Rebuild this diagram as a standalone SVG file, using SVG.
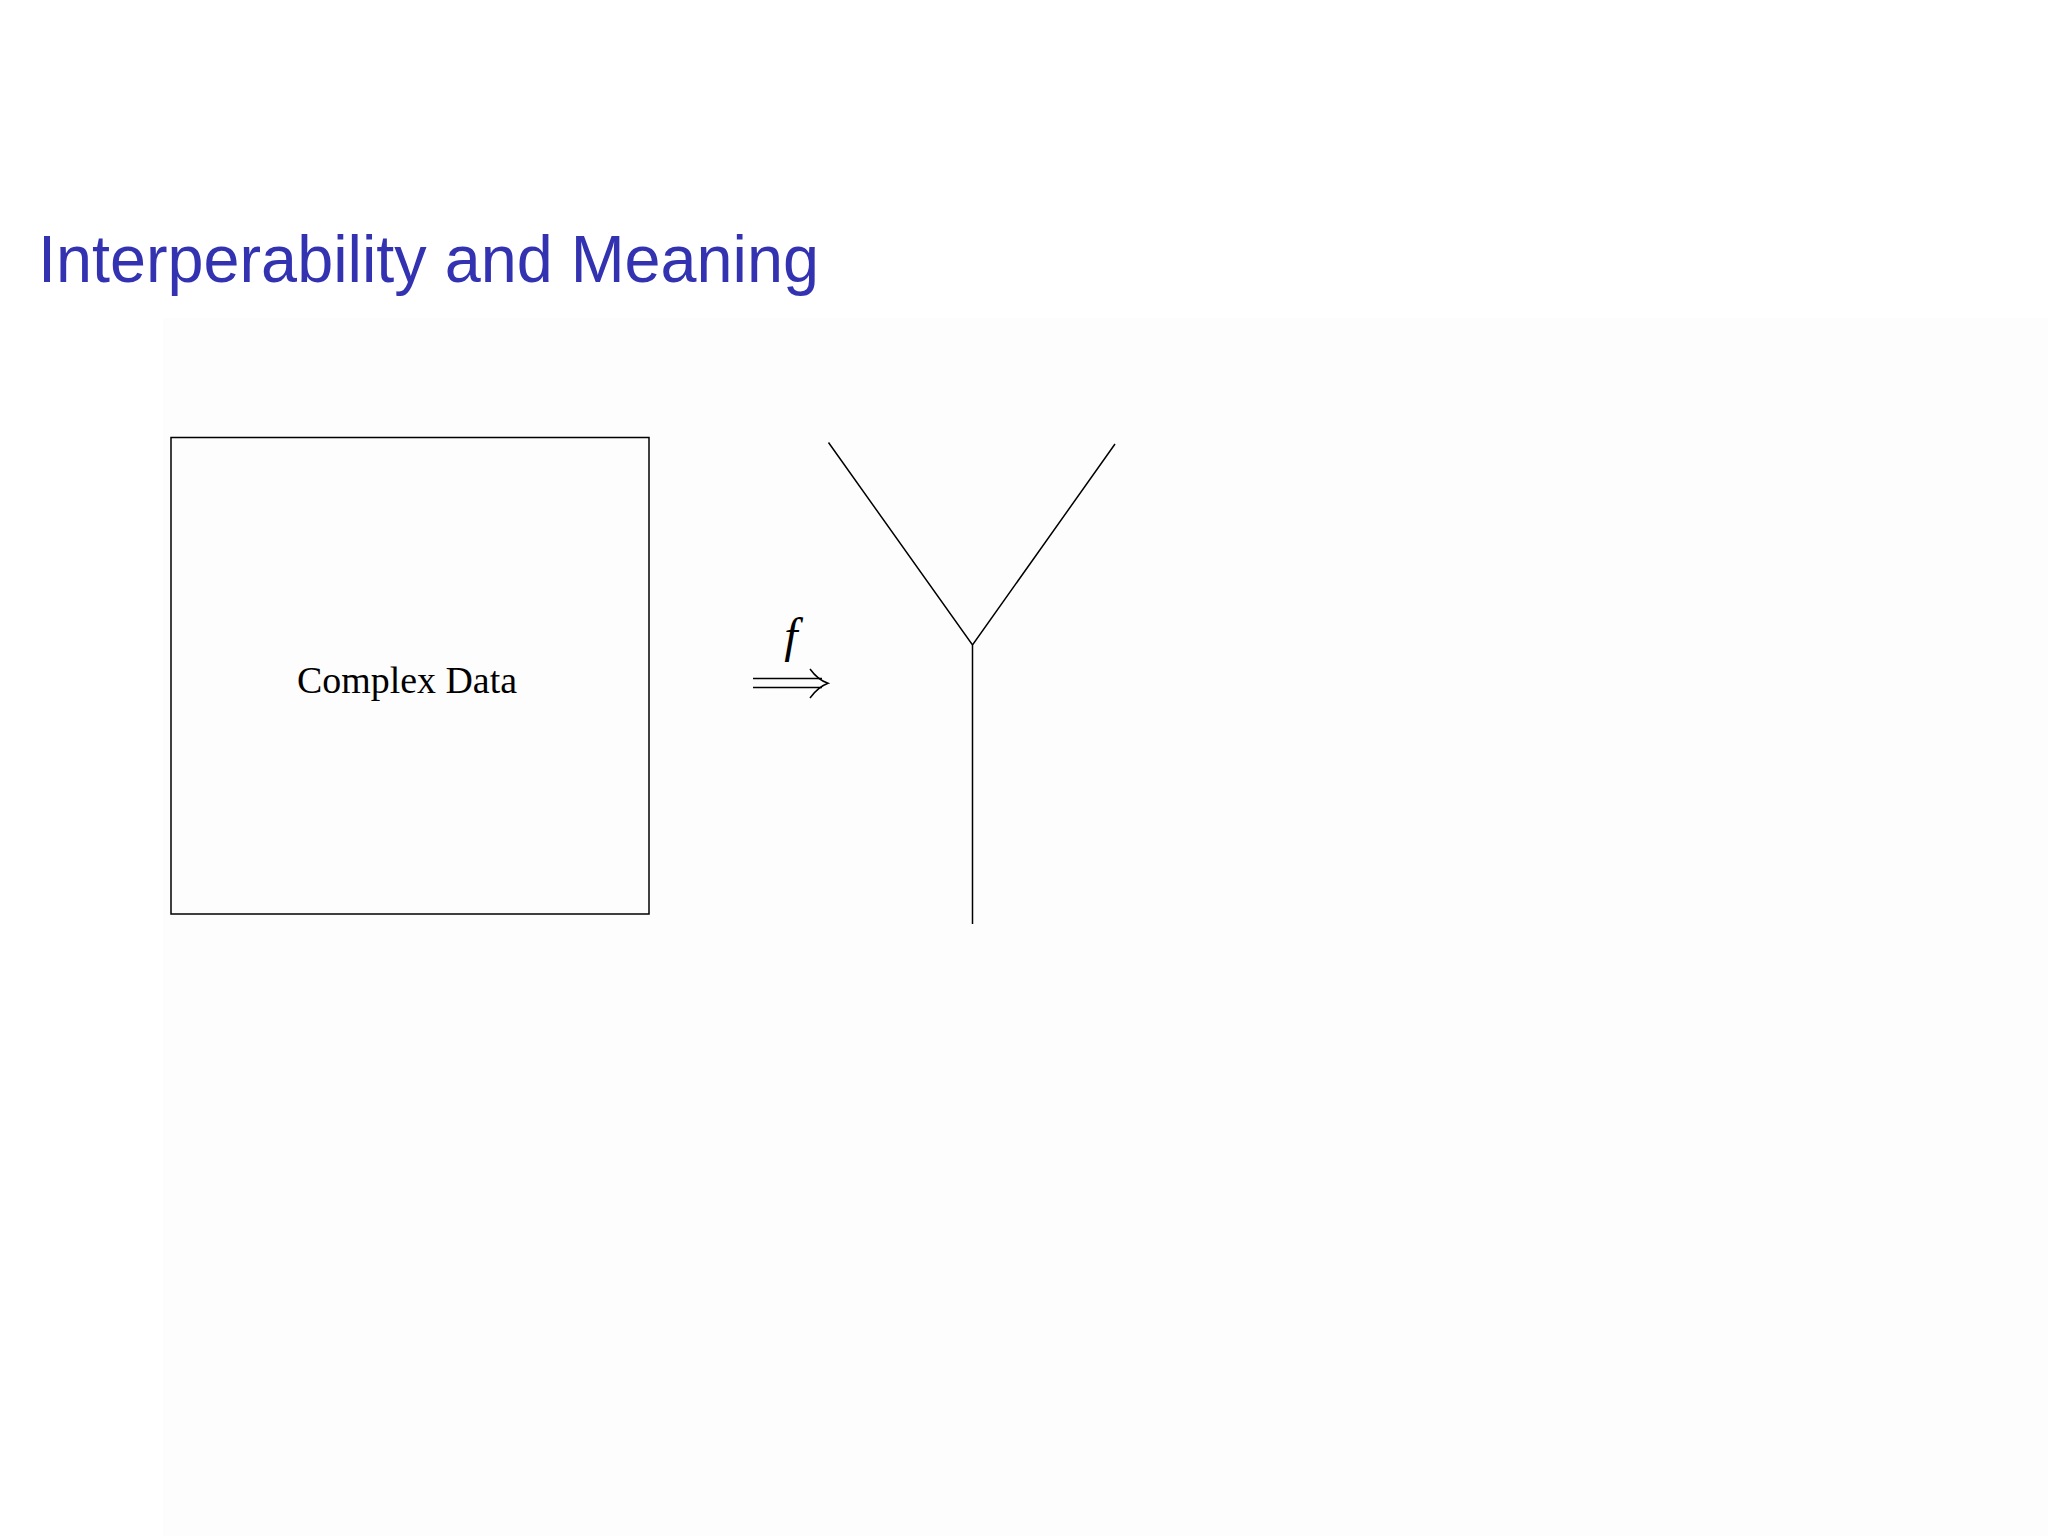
<svg xmlns="http://www.w3.org/2000/svg" width="2048" height="1536" viewBox="0 0 2048 1536">
<style>
.title{font-family:"Liberation Sans",Arial,sans-serif;font-size:66px;fill:#3333b2}
.lbl{font-family:"Liberation Serif","DejaVu Serif",serif;font-size:38px;fill:#000}
.math{font-family:"Liberation Serif","DejaVu Serif",serif;font-style:italic;font-size:48px;fill:#000}
.ln{stroke:#000;stroke-width:1.5;fill:none;stroke-linecap:butt}
</style>
<rect x="0" y="0" width="2048" height="1536" fill="#ffffff"/>
<rect x="163" y="318" width="1885" height="1218" fill="#fdfdfd"/>
<text class="title" x="38" y="282" textLength="781" lengthAdjust="spacingAndGlyphs">Interperability and Meaning</text>
<g id="complex-data">
<rect class="ln" x="171" y="437.5" width="478" height="476.5" stroke-width="1.4"/>
<text class="lbl" x="407" y="693" text-anchor="middle" textLength="220" lengthAdjust="spacingAndGlyphs">Complex Data</text>
</g>
<g id="map-f">
<text class="math" x="791" y="652" text-anchor="middle">f</text>
<path class="ln" d="M753 678.5 H822 M753 687.5 H822" stroke-width="1.6"/>
<path class="ln" d="M810 669 Q818 680 828 683.3 Q818 687 810 698" stroke-width="1.6"/>
</g>
<g id="tree">
<path class="ln" d="M828.5 442.5 L972.5 645 L1115 444 M972.5 645 V924"/>
</g>
</svg>
